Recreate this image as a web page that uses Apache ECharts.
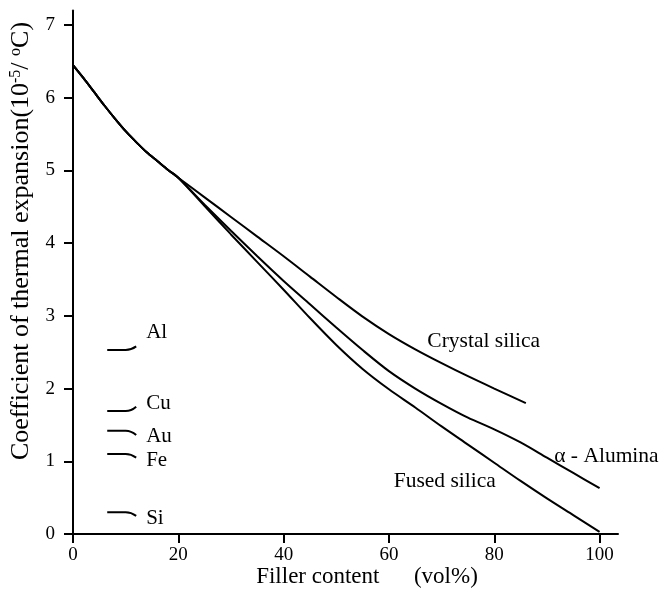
<!DOCTYPE html>
<html>
<head>
<meta charset="utf-8">
<script src="https://cdn.jsdelivr.net/npm/echarts@6/dist/echarts.min.js"></script>
<style>
  html, body { margin: 0; padding: 0; background: #fff; }
  #chart { width: 665px; height: 606px; }
</style>
</head>
<body>
<div id="chart"></div>
<script>
// Tick values on both axes
const xTicks = [0, 20, 40, 60, 80, 100];
const yTicks = [0, 1, 2, 3, 4, 5, 6, 7];

// Shared start of all three curves (filler content vol%, CTE 10^-5/°C)
const sharedX = [0, 2, 4, 6, 8, 10, 12, 14, 16, 18, 20];
const sharedY = [6.45, 6.27, 6.08, 5.89, 5.71, 5.54, 5.39, 5.25, 5.13, 5.01, 4.90];

// Crystal silica branch
const crystalX = [25, 30, 35, 40, 45, 50, 55, 60, 65, 70, 75, 80, 86];
const crystalY = [4.63, 4.36, 4.09, 3.82, 3.54, 3.26, 2.99, 2.75, 2.54, 2.35, 2.17, 2.00, 1.80];

// alpha-Alumina branch
const aluminaX = [25, 30, 35, 40, 45, 50, 55, 60, 65, 70, 75, 80, 85, 90, 95, 100];
const aluminaY = [4.53, 4.17, 3.82, 3.48, 3.16, 2.84, 2.53, 2.24, 2.00, 1.79, 1.60, 1.44, 1.26, 1.05, 0.84, 0.63];

// Fused silica branch
const fusedX = [25, 30, 35, 40, 45, 50, 55, 60, 65, 70, 75, 80, 85, 90, 95, 100];
const fusedY = [4.51, 4.12, 3.74, 3.36, 2.97, 2.60, 2.27, 1.99, 1.74, 1.48, 1.23, 0.98, 0.73, 0.49, 0.26, 0.03];

// Reference metals
const metalNames = ['Al', 'Cu', 'Au', 'Fe', 'Si'];
const metalCTE = [2.53, 1.69, 1.42, 1.10, 0.30];
const metalTail = [0.05, 0.06, -0.06, -0.05, -0.05];
const metalSpan = [6.5, 10, 12];

const serif = 'Liberation Serif';

function curve(xs, ys) {
  const pts = sharedX.map((x, i) => [x, sharedY[i]]);
  xs.forEach((x, i) => pts.push([x, ys[i]]));
  return pts;
}

const lineStyle = { color: '#000', width: 2 };

const series = [
  { name: 'Crystal silica', data: curve(crystalX, crystalY) },
  { name: 'α - Alumina', data: curve(aluminaX, aluminaY) },
  { name: 'Fused silica', data: curve(fusedX, fusedY) }
].map(s => ({
  type: 'line', name: s.name, data: s.data, smooth: 0.3,
  showSymbol: false, silent: true, lineStyle: lineStyle
}));

const metalLabelOffset = [[2, -14], [2, -3], [2, 1], [2, 3], [2, 3]];
metalNames.forEach((name, i) => {
  const v = metalCTE[i];
  series.push({
    type: 'line', name: name, smooth: 0.5, showSymbol: false, silent: true,
    lineStyle: { color: '#000', width: 2 },
    data: [[metalSpan[0], v], [metalSpan[1], v], [metalSpan[2], v + metalTail[i]]],
    endLabel: {
      show: true, formatter: name, color: '#000',
      fontFamily: serif, fontSize: 21, offset: metalLabelOffset[i]
    }
  });
});

// Curve names, anchored in data coordinates beside their lines
const curveLabels = [
  { text: 'Crystal silica', coord: [78, 2.65] },
  { text: 'α - Alumina', coord: [101.3, 1.07] },
  { text: 'Fused silica', coord: [70.6, 0.72] }
];

const axisCommon = {
  type: 'value',
  axisLine: { show: true, lineStyle: { color: '#000', width: 2 } },
  splitLine: { show: false },
  axisLabel: { color: '#000', fontFamily: serif, fontSize: 19 },
  axisTick: { show: true, inside: false, length: 9, lineStyle: { color: '#000', width: 2 } }
};

const chart = echarts.init(document.getElementById('chart'), null, { renderer: 'canvas' });
chart.setOption({
  animation: false,
  backgroundColor: '#fff',
  grid: { left: 73, top: 10.5, width: 545, height: 523.5, containLabel: false },
  xAxis: Object.assign({}, axisCommon, {
    min: 0, max: 103.5,
    axisTick: Object.assign({}, axisCommon.axisTick, { customValues: xTicks }),
    axisLabel: Object.assign({}, axisCommon.axisLabel, { customValues: xTicks, margin: 12 })
  }),
  yAxis: Object.assign({}, axisCommon, {
    min: 0, max: 7.2,
    axisTick: Object.assign({}, axisCommon.axisTick, { customValues: yTicks }),
    axisLabel: Object.assign({}, axisCommon.axisLabel, { customValues: yTicks, margin: 18 })
  }),
  series: series
});

// Axis titles plus curve names placed through the chart's coordinate conversion
const graphics = [
  {
    id: 'yTitle', type: 'text', x: 21, y: 241, rotation: Math.PI / 2, silent: true,
    style: {
      text: 'Coefficient of thermal expansion(10{sup|-5}/ {sup|o}C)',
      fill: '#000', font: '26px "Liberation Serif"',
      align: 'center', verticalAlign: 'middle',
      rich: { sup: { fontSize: 16, fontFamily: serif, fill: '#000', verticalAlign: 'top', padding: [0, 0, 10, 0] } }
    }
  },
  {
    id: 'xTitle', type: 'text', x: 367, y: 577, silent: true,
    style: {
      text: 'Filler content      (vol%)', fill: '#000', font: '23px "Liberation Serif"',
      align: 'center', verticalAlign: 'middle'
    }
  }
];
curveLabels.forEach((c, i) => {
  const p = chart.convertToPixel({ gridIndex: 0 }, c.coord);
  graphics.push({
    id: 'curveName' + i, type: 'text', x: p[0], y: p[1], silent: true,
    style: {
      text: c.text, fill: '#000', font: '21.5px "Liberation Serif"',
      align: 'center', verticalAlign: 'middle'
    }
  });
});
chart.setOption({ graphic: graphics });
</script>
</body>
</html>
